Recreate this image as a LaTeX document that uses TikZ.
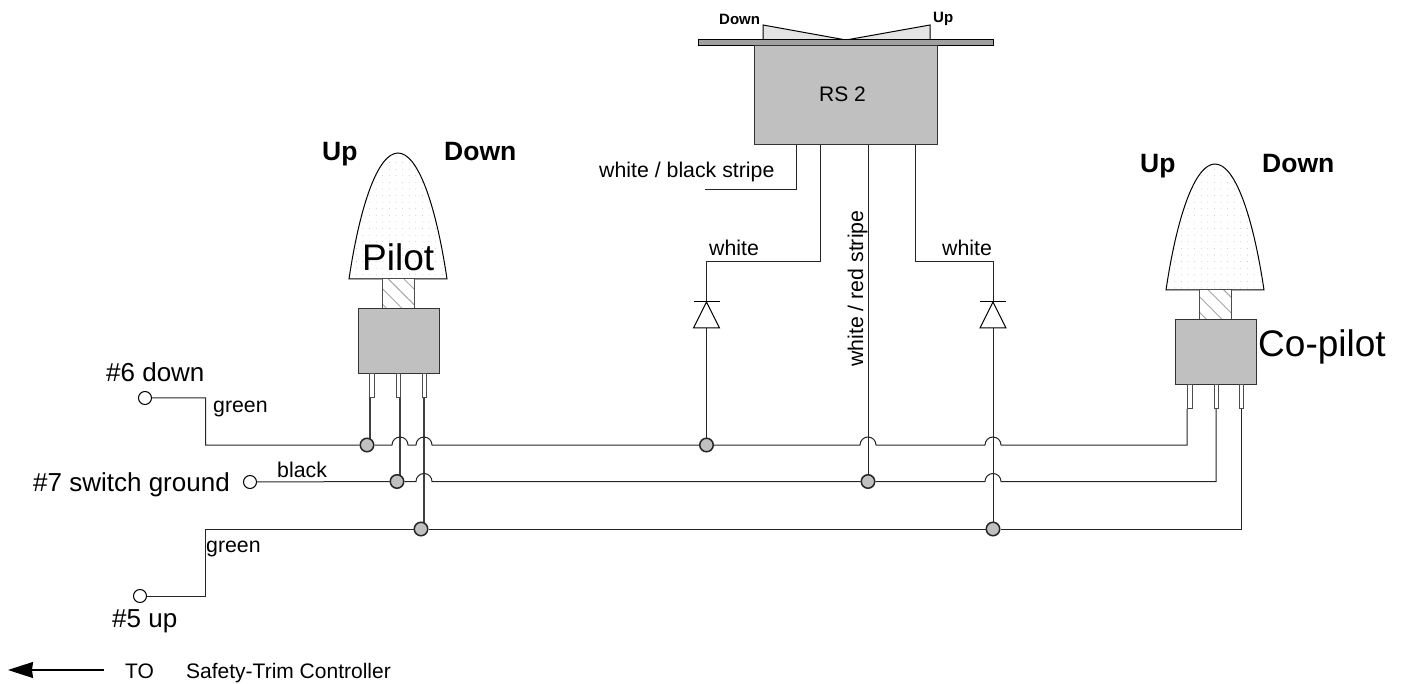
\documentclass[tikz,border=0pt]{standalone}
\usepackage{fontspec}
\setmainfont{Liberation Sans}
\usetikzlibrary{arrows.meta,patterns.meta,backgrounds}
\definecolor{boxgray}{HTML}{C0C0C0}
\definecolor{bargray}{HTML}{A0A0A0}
\definecolor{rockgray}{HTML}{E4E4E4}
\tikzset{
    wire/.style={line width=1pt,black!85},
    thick wire/.style={line width=1.6pt,black!75},
    box/.style={draw=black!80,fill=boxgray,line width=1pt,inner sep=0pt},
    dot/.style={circle,draw=black!85,fill=boxgray,line width=1.5pt,minimum size=13.5pt,inner sep=0pt},
    terminal/.style={circle,draw=black,fill=white,line width=1pt,minimum size=13pt,inner sep=0pt},
    label/.style={anchor=base west,inner sep=0pt,font=\fontsize{21.3}{21.3}\selectfont},
    biglabel/.style={anchor=base west,inner sep=0pt,font=\fontsize{26}{26}\selectfont},
    hugelabel/.style={anchor=base west,inner sep=0pt,font=\fontsize{37}{37}\selectfont},
    updown/.style={anchor=base west,inner sep=0pt,font=\bfseries\fontsize{26.5}{26.5}\selectfont},
    rockerlabel/.style={anchor=base west,inner sep=0pt,font=\bfseries\fontsize{15}{15}\selectfont},
    nose/.style={draw=black,line width=1pt,preaction={fill=white},pattern={Dots[distance=6.6pt,radius=0.35pt]},pattern color=black!40},
    stem/.style={draw=black!70,line width=1pt,preaction={fill=white},pattern={Lines[angle=-45,distance=11pt,line width=0.9pt]},pattern color=black!35},
    pin/.style={draw=black!70,fill=white,line width=1pt}
}
% one hop of a wire over a crossing wire
\newcommand{\hop}[2]{-- (#1-8,#2) arc[start angle=180,end angle=360,radius=8]}
\begin{document}
\begin{tikzpicture}[x=1pt,y=-1pt]
    \useasboundingbox (0,0) rectangle (1403,684);

    % rocker switch
    \draw[line width=1pt,fill=rockgray] (763,40) -- (763,25) -- (846,40) -- (930,25) -- (930,40) -- cycle;
    \draw[line width=1pt,fill=bargray] (698,40) rectangle (993,46);
    \node[box,minimum width=183pt,minimum height=99pt] (rs) at (845.5,95.5) {};
    \node[label,font=\fontsize{21}{21}\selectfont] (lrs) at (819,102) {RS 2};
    \node[rockerlabel] (rsdown) at (719,25) {Down};
    \node[rockerlabel] (rsup) at (933,23) {Up};

    % wire ends and corners
    \coordinate (rsa) at (796,145);
    \coordinate (rsb) at (820,145);
    \coordinate (rsc) at (868,145);
    \coordinate (rsd) at (915,145);
    \coordinate (stripeend) at (705,190);
    \coordinate (cornerb) at (706.5,262);
    \coordinate (cornerd) at (993,262);

    % diodes
    \coordinate (diodel) at (706.5,302);
    \coordinate (dioder) at (993,302);
    \foreach \d in {diodel,dioder}{
        \draw[line width=1pt] ([xshift=-13pt]\d) -- ([xshift=13pt]\d);
        \draw[line width=1pt] (\d) -- ([xshift=-13pt,yshift=-26pt]\d) -- ([xshift=13pt,yshift=-26pt]\d) -- cycle;
    }

    % junctions
    \node[dot] (ja) at (367,445) {};
    \node[dot] (jb) at (706.5,445) {};
    \node[dot] (jc) at (397,481.5) {};
    \node[dot] (jd) at (868,481.5) {};
    \node[dot] (je) at (421,529) {};
    \node[dot] (jf) at (993,529) {};

    % terminals
    \node[terminal] (tdown) at (145,398) {};
    \node[terminal] (tground) at (250,482) {};
    \node[terminal] (tup) at (140,596) {};

    % pilot switch
    \draw[nose] (349,279) .. controls (360,205) and (378,153) .. (398,153) .. controls (418,153) and (436,205) .. (447,279) -- cycle;
    \draw[stem] (382,279) rectangle (414,309);
    \node[box,minimum width=81pt,minimum height=65pt] (pilot) at (398.5,341.5) {};
    \draw[pin] (369,374) rectangle (374,398);
    \draw[pin] (396,374) rectangle (400,398);
    \draw[pin] (422,374) rectangle (426,398);

    % co-pilot switch
    \draw[nose] (1166,290) .. controls (1177,216) and (1195,164) .. (1215,164) .. controls (1235,164) and (1253,216) .. (1264,290) -- cycle;
    \draw[stem] (1199,290) rectangle (1231,320);
    \node[box,minimum width=81pt,minimum height=65pt] (copilot) at (1215.5,352.5) {};
    \draw[pin] (1187,385) rectangle (1192,409);
    \draw[pin] (1214,385) rectangle (1218,409);
    \draw[pin] (1239,385) rectangle (1243,409);

    % wires
    \begin{scope}[on background layer]
        \draw[wire] (rsa) |- (stripeend);
        \draw[wire] (rsb) |- (cornerb) -- (diodel);
        \draw[wire] (rsd) |- (cornerd) -- (dioder);
        \draw[wire] (rsc) -- (868,481.5);
        \draw[wire] (706.5,328) -- (706.5,445);
        \draw[wire] (993,328) -- (993,529);
        \draw[thick wire] (370,398) -- (370,445);
        \draw[thick wire] (400,398) -- (400,481.5);
        \draw[thick wire] (424,398) -- (424,529);
        % bus lines
        \draw[wire] (tdown) -| (205.5,445) -- (ja) \hop{400}{445} \hop{424}{445} -- (jb) \hop{868}{445} \hop{993}{445} -| (1187,409);
        \draw[wire] (tground) -- (jc) \hop{424}{481.5} -- (jd) \hop{993}{481.5} -| (1216,409);
        \draw[wire] (tup) -| (205.5,529) -- (je) -- (jf) -| (1241,409);
    \end{scope}

    % labels
    \node[biglabel] (l6) at (106,382) {\#6 down};
    \node[biglabel] (l7) at (33,491) {\#7 switch ground};
    \node[biglabel] (l5) at (112,627) {\#5 up};
    \node[label] (lgreena) at (213,413) {green};
    \node[label] (lblack) at (277,477) {black};
    \node[label] (lgreenb) at (206,552) {green};
    \node[label] (lstripe) at (599,178) {white / black stripe};
    \node[label] (lwhitea) at (709,256) {white};
    \node[label] (lwhiteb) at (942,256) {white};
    \node[label,rotate=90] (lred) at (863,367) {white / red stripe};
    \node[updown] (upa) at (322,161) {Up};
    \node[updown] (downa) at (444,161) {Down};
    \node[updown] (upb) at (1140,173) {Up};
    \node[updown] (downb) at (1262,173) {Down};
    \node[hugelabel] (lpilot) at (362,271) {Pilot};
    \node[hugelabel] (lcopilot) at (1258,357) {Co-pilot};

    % controller note
    \node[label,font=\fontsize{21}{21}\selectfont] (lto) at (125,678) {TO};
    \node[label,font=\fontsize{21}{21}\selectfont] (lctrl) at (186,678) {Safety-Trim Controller};
    \coordinate (arrowstart) at (104,670);
    \coordinate (arrowend) at (8,670);
    \draw[line width=1.2pt,-{Stealth[length=25pt,width=16pt,inset=1pt]}] (arrowstart) -- (arrowend);
\end{tikzpicture}
\end{document}
